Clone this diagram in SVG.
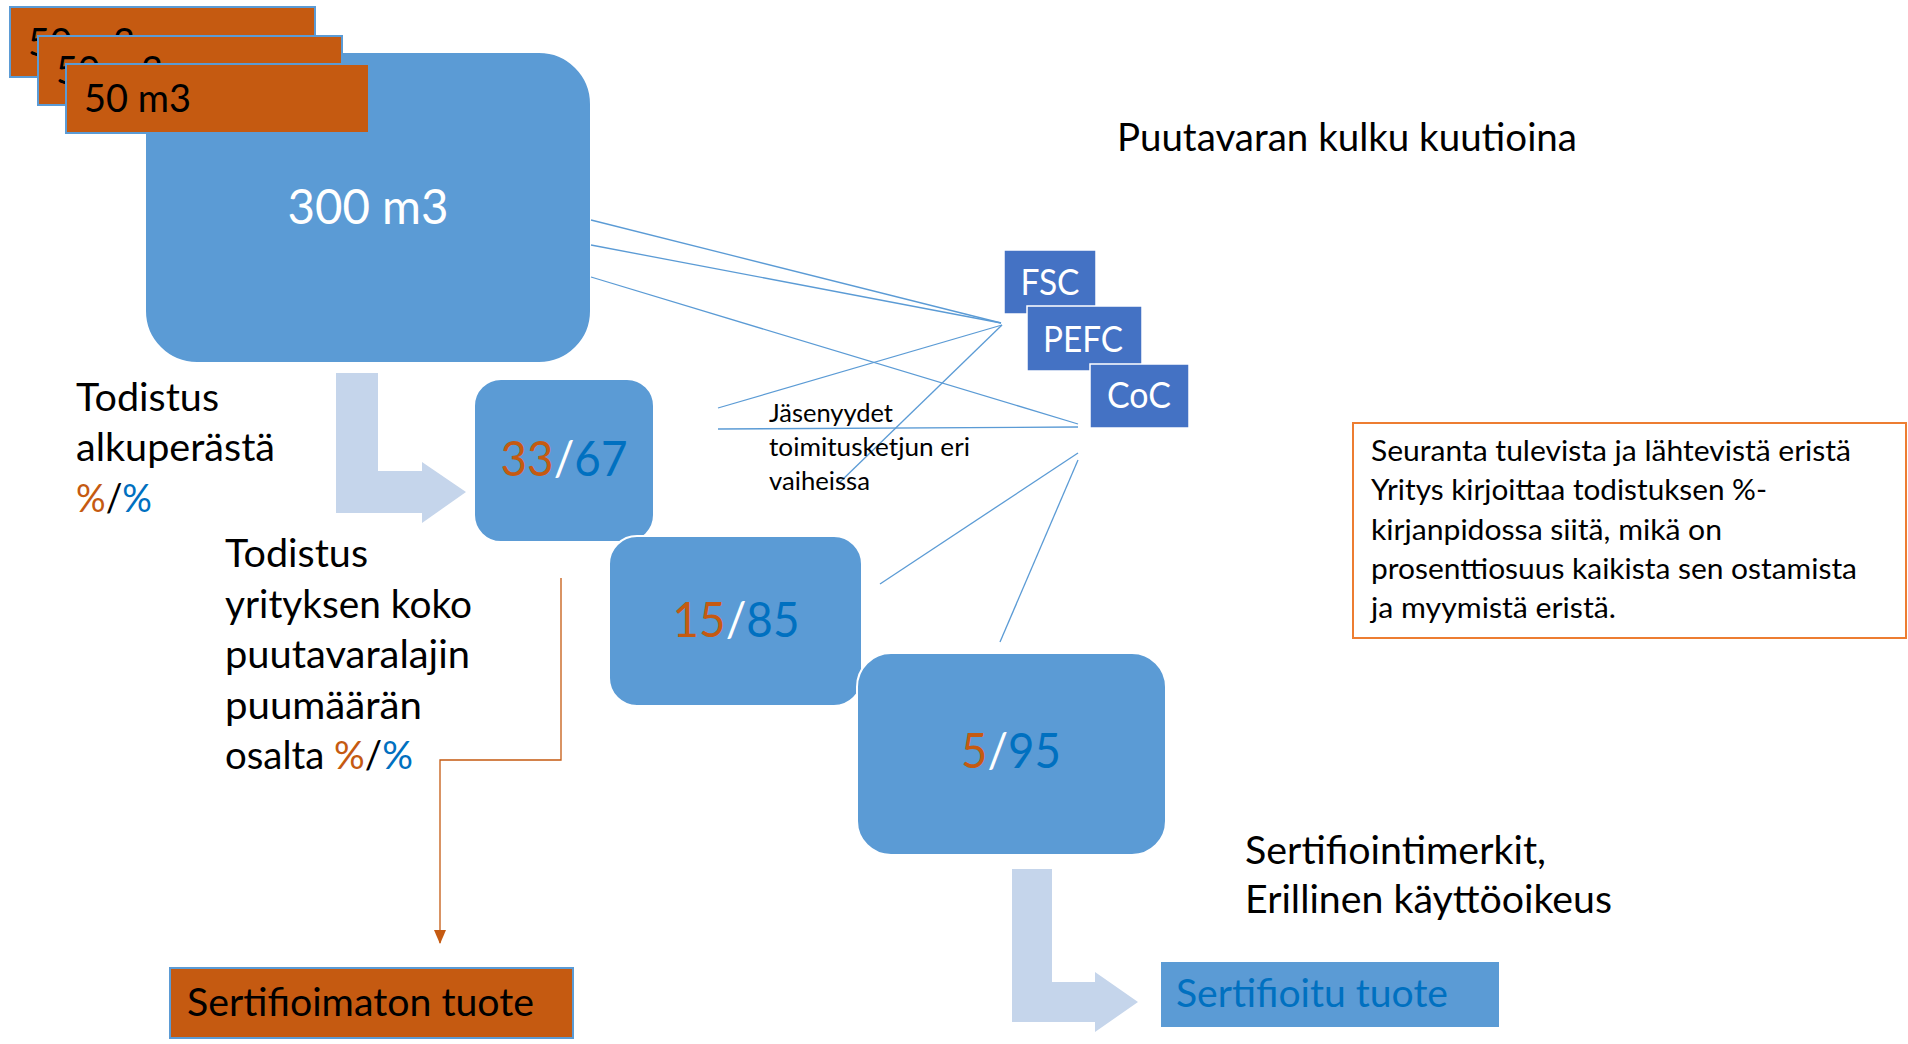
<svg xmlns="http://www.w3.org/2000/svg" width="1908" height="1044" viewBox="0 0 1908 1044">
<defs>
<style>
text{font-family:Lato,"Open Sans","Liberation Sans",sans-serif}
.big{font-size:38px;fill:#000}
.num{font-size:47.5px}
.info{font-size:29px;fill:#000}
.small{font-size:25px;fill:#000}
.cert{font-size:36px;fill:#fff}
.box{fill:#5B9BD5;stroke:#fff;stroke-width:2}
.org{fill:#C55A11;stroke:#5B9BD5;stroke-width:2}
.certbox{fill:#4472C4;stroke:#fff;stroke-width:1.5}
.arrow{fill:#C5D5EB}
.o{fill:#C55A11}.b{fill:#0070C0}.w{fill:#fff}.k{fill:#000}
.ln{stroke:#5B9BD5;stroke-width:1.3;fill:none}
</style>
<marker id="ah" viewBox="0 0 14 12" refX="13" refY="6" markerWidth="14" markerHeight="12" markerUnits="userSpaceOnUse" orient="auto">
<path d="M0,0 L14,6 L0,12 Z" fill="#C55A11"/>
</marker>
</defs>
<rect width="1908" height="1044" fill="#fff"/>

<g id="box300">
<rect class="box" x="145" y="52" width="446" height="311" rx="52"/>
<text class="w" x="368" y="224" font-size="47.5" text-anchor="middle" textLength="161" lengthAdjust="spacingAndGlyphs">300 m3</text>
</g>

<g id="m3-1">
<rect class="org" x="10" y="7" width="305" height="70"/>
<text class="big" x="28" y="56" textLength="107" lengthAdjust="spacingAndGlyphs">50 m3</text>
</g>
<g id="m3-2">
<rect class="org" x="38" y="36" width="304" height="69"/>
<text class="big" x="56" y="84" textLength="107" lengthAdjust="spacingAndGlyphs">50 m3</text>
</g>
<g id="m3-3">
<rect class="org" x="66" y="64" width="303" height="69"/>
<text class="big" x="84" y="112" textLength="107" lengthAdjust="spacingAndGlyphs">50 m3</text>
</g>

<g id="title">
<text class="big" x="1117" y="151" textLength="460" lengthAdjust="spacingAndGlyphs">Puutavaran kulku kuutioina</text>
</g>

<g id="connectors">
<line class="ln" x1="591" y1="220" x2="1001" y2="323"/>
<line class="ln" x1="591" y1="245" x2="1001" y2="323"/>
<line class="ln" x1="591" y1="277" x2="1078" y2="424"/>
<line class="ln" x1="718" y1="408" x2="1002" y2="325"/>
<line class="ln" x1="718" y1="429" x2="1078" y2="427"/>
<line class="ln" x1="1002" y1="325" x2="839" y2="483"/>
<line class="ln" x1="1078" y1="453" x2="880" y2="584"/>
<line class="ln" x1="1078" y1="460" x2="1000" y2="642"/>
<polyline points="561,578 561,760 440,760 440,943" fill="none" stroke="#C55A11" stroke-width="1.3" marker-end="url(#ah)"/>
<polygon class="arrow" points="336,373 378,373 378,471 422,471 422,462 466,492 422,523 422,513 336,513"/>
<polygon class="arrow" points="1012,869 1052,869 1052,982 1095,982 1095,972 1138,1002 1095,1032 1095,1022 1012,1022"/>
</g>

<g id="fsc">
<rect class="certbox" x="1004" y="250" width="92" height="64"/>
<text class="cert" x="1050" y="295" text-anchor="middle" textLength="59" lengthAdjust="spacingAndGlyphs">FSC</text>
</g>
<g id="pefc">
<rect class="certbox" x="1027" y="306" width="115" height="65"/>
<text class="cert" x="1083" y="352" text-anchor="middle" textLength="80" lengthAdjust="spacingAndGlyphs">PEFC</text>
</g>
<g id="coc">
<rect class="certbox" x="1090" y="364" width="99" height="64"/>
<text class="cert" x="1139" y="408" text-anchor="middle" textLength="64" lengthAdjust="spacingAndGlyphs">CoC</text>
</g>

<g id="jasenyydet">
<text class="small" x="769" y="422" textLength="124" lengthAdjust="spacingAndGlyphs">Jäsenyydet</text>
<text class="small" x="769" y="456" textLength="201" lengthAdjust="spacingAndGlyphs">toimitusketjun eri</text>
<text class="small" x="769" y="490" textLength="101" lengthAdjust="spacingAndGlyphs">vaiheissa</text>
</g>

<g id="box33">
<rect class="box" x="474" y="379" width="180" height="163" rx="27"/>
<text class="num" x="564" y="476" text-anchor="middle" textLength="127" lengthAdjust="spacingAndGlyphs"><tspan class="o">33</tspan><tspan class="w">/</tspan><tspan class="b">67</tspan></text>
</g>
<g id="box15">
<rect class="box" x="609" y="536" width="253" height="170" rx="28"/>
<text class="num" x="736" y="637" text-anchor="middle" textLength="127" lengthAdjust="spacingAndGlyphs"><tspan class="o">15</tspan><tspan class="w">/</tspan><tspan class="b">85</tspan></text>
</g>
<g id="box5">
<rect class="box" x="857" y="653" width="309" height="202" rx="34"/>
<text class="num" x="1011" y="768" text-anchor="middle" textLength="100" lengthAdjust="spacingAndGlyphs"><tspan class="o">5</tspan><tspan class="w">/</tspan><tspan class="b">95</tspan></text>
</g>

<g id="todistus1">
<text class="big" x="76" y="411" textLength="143" lengthAdjust="spacingAndGlyphs">Todistus</text>
<text class="big" x="76" y="461" textLength="199" lengthAdjust="spacingAndGlyphs">alkuperästä</text>
<text class="big" x="76" y="512" textLength="76" lengthAdjust="spacingAndGlyphs"><tspan class="o">%</tspan><tspan class="k">/</tspan><tspan class="b">%</tspan></text>
</g>

<g id="todistus2">
<text class="big" x="225" y="567" textLength="143" lengthAdjust="spacingAndGlyphs">Todistus</text>
<text class="big" x="225" y="618" textLength="247" lengthAdjust="spacingAndGlyphs">yrityksen koko</text>
<text class="big" x="225" y="668" textLength="245" lengthAdjust="spacingAndGlyphs">puutavaralajin</text>
<text class="big" x="225" y="719" textLength="197" lengthAdjust="spacingAndGlyphs">puumäärän</text>
<text class="big" x="225" y="769" textLength="188" lengthAdjust="spacingAndGlyphs"><tspan class="k">osalta </tspan><tspan class="o">%</tspan><tspan class="k">/</tspan><tspan class="b">%</tspan></text>
</g>

<g id="info">
<rect x="1353" y="423" width="553" height="215" fill="#fff" stroke="#ED7D31" stroke-width="2"/>
<text class="info" x="1371" y="461" textLength="480" lengthAdjust="spacingAndGlyphs">Seuranta tulevista ja lähtevistä eristä</text>
<text class="info" x="1371" y="500" textLength="396" lengthAdjust="spacingAndGlyphs">Yritys kirjoittaa todistuksen %-</text>
<text class="info" x="1371" y="540" textLength="351" lengthAdjust="spacingAndGlyphs">kirjanpidossa siitä, mikä on</text>
<text class="info" x="1371" y="579" textLength="486" lengthAdjust="spacingAndGlyphs">prosenttiosuus kaikista sen ostamista</text>
<text class="info" x="1371" y="618" textLength="245" lengthAdjust="spacingAndGlyphs">ja myymistä eristä.</text>
</g>

<g id="sertmerkit">
<text class="big" x="1245" y="864" textLength="301" lengthAdjust="spacingAndGlyphs">Sertifiointimerkit,</text>
<text class="big" x="1245" y="913" textLength="367" lengthAdjust="spacingAndGlyphs">Erillinen käyttöoikeus</text>
</g>

<g id="sertifioimaton">
<rect class="org" x="170" y="968" width="403" height="70"/>
<text class="big" x="187" y="1016" textLength="347" lengthAdjust="spacingAndGlyphs">Sertifioimaton tuote</text>
</g>

<g id="sertifioitu">
<rect x="1161" y="962" width="338" height="65" fill="#5B9BD5"/>
<text class="big b" x="1176" y="1007" textLength="272" lengthAdjust="spacingAndGlyphs">Sertifioitu tuote</text>
</g>
</svg>
